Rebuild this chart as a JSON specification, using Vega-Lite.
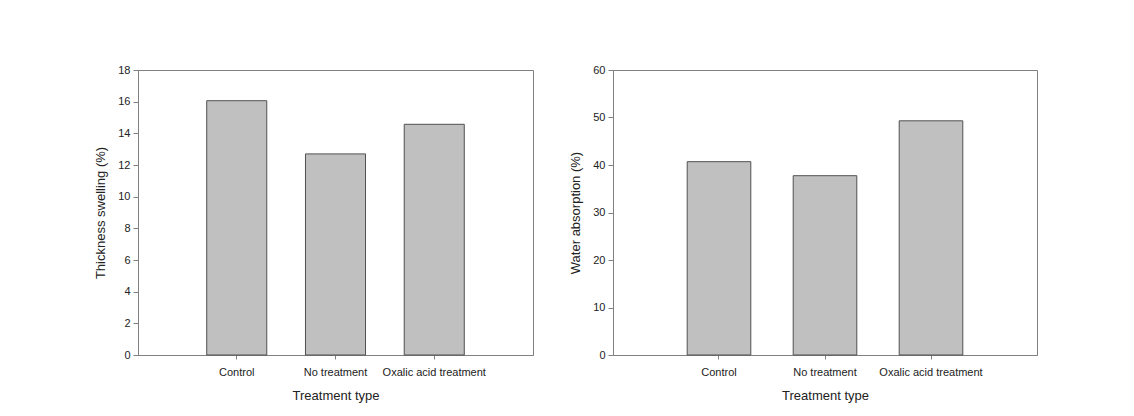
{
  "$schema": "https://vega.github.io/schema/vega-lite/v6.json",
  "padding": {"left": 94, "top": 63, "right": 5, "bottom": 5},
  "bounds": "flush",
  "spacing": 80,
  "background": "white",
  "config": {
    "view": {"stroke": "#808080", "strokeWidth": 1},
    "axis": {
      "labelFont": "Liberation Sans",
      "titleFont": "Liberation Sans",
      "labelFontSize": 11,
      "titleFontSize": 13,
      "titleFontWeight": "normal",
      "labelColor": "#222222",
      "titleColor": "#222222",
      "domainColor": "#808080",
      "tickColor": "#808080",
      "grid": false
    }
  },
  "datasets": {
    "ts": [
      {"treatment": "Control", "value": 16.06},
      {"treatment": "No treatment", "value": 12.7},
      {"treatment": "Oxalic acid treatment", "value": 14.57}
    ],
    "wa": [
      {"treatment": "Control", "value": 40.7},
      {"treatment": "No treatment", "value": 37.75},
      {"treatment": "Oxalic acid treatment", "value": 49.3}
    ]
  },
  "hconcat": [
    {
      "data": {"name": "ts"},
      "width": 395,
      "height": 285,
      "mark": {"type": "bar", "fill": "#c0c0c0", "stroke": "#505050", "strokeWidth": 1},
      "encoding": {
        "x": {
          "field": "treatment", "type": "nominal", "sort": null,
          "scale": {"paddingInner": 0.392, "paddingOuter": 0.696},
          "axis": {"title": "Treatment type", "labelAngle": 0, "tickSize": 4, "labelPadding": 7, "titlePadding": 12}
        },
        "y": {
          "field": "value", "type": "quantitative",
          "scale": {"domain": [0, 18], "nice": false},
          "axis": {"title": "Thickness swelling (%)", "values": [0, 2, 4, 6, 8, 10, 12, 14, 16, 18], "tickSize": 5, "labelPadding": 3, "titlePadding": 10}
        }
      }
    },
    {
      "data": {"name": "wa"},
      "width": 424,
      "height": 285,
      "mark": {"type": "bar", "fill": "#c0c0c0", "stroke": "#505050", "strokeWidth": 1},
      "encoding": {
        "x": {
          "field": "treatment", "type": "nominal", "sort": null,
          "scale": {"paddingInner": 0.4, "paddingOuter": 0.7},
          "axis": {"title": "Treatment type", "labelAngle": 0, "tickSize": 4, "labelPadding": 7, "titlePadding": 12}
        },
        "y": {
          "field": "value", "type": "quantitative",
          "scale": {"domain": [0, 60], "nice": false},
          "axis": {"title": "Water absorption (%)", "values": [0, 10, 20, 30, 40, 50, 60], "tickSize": 5, "labelPadding": 3, "titlePadding": 10}
        }
      }
    }
  ]
}
